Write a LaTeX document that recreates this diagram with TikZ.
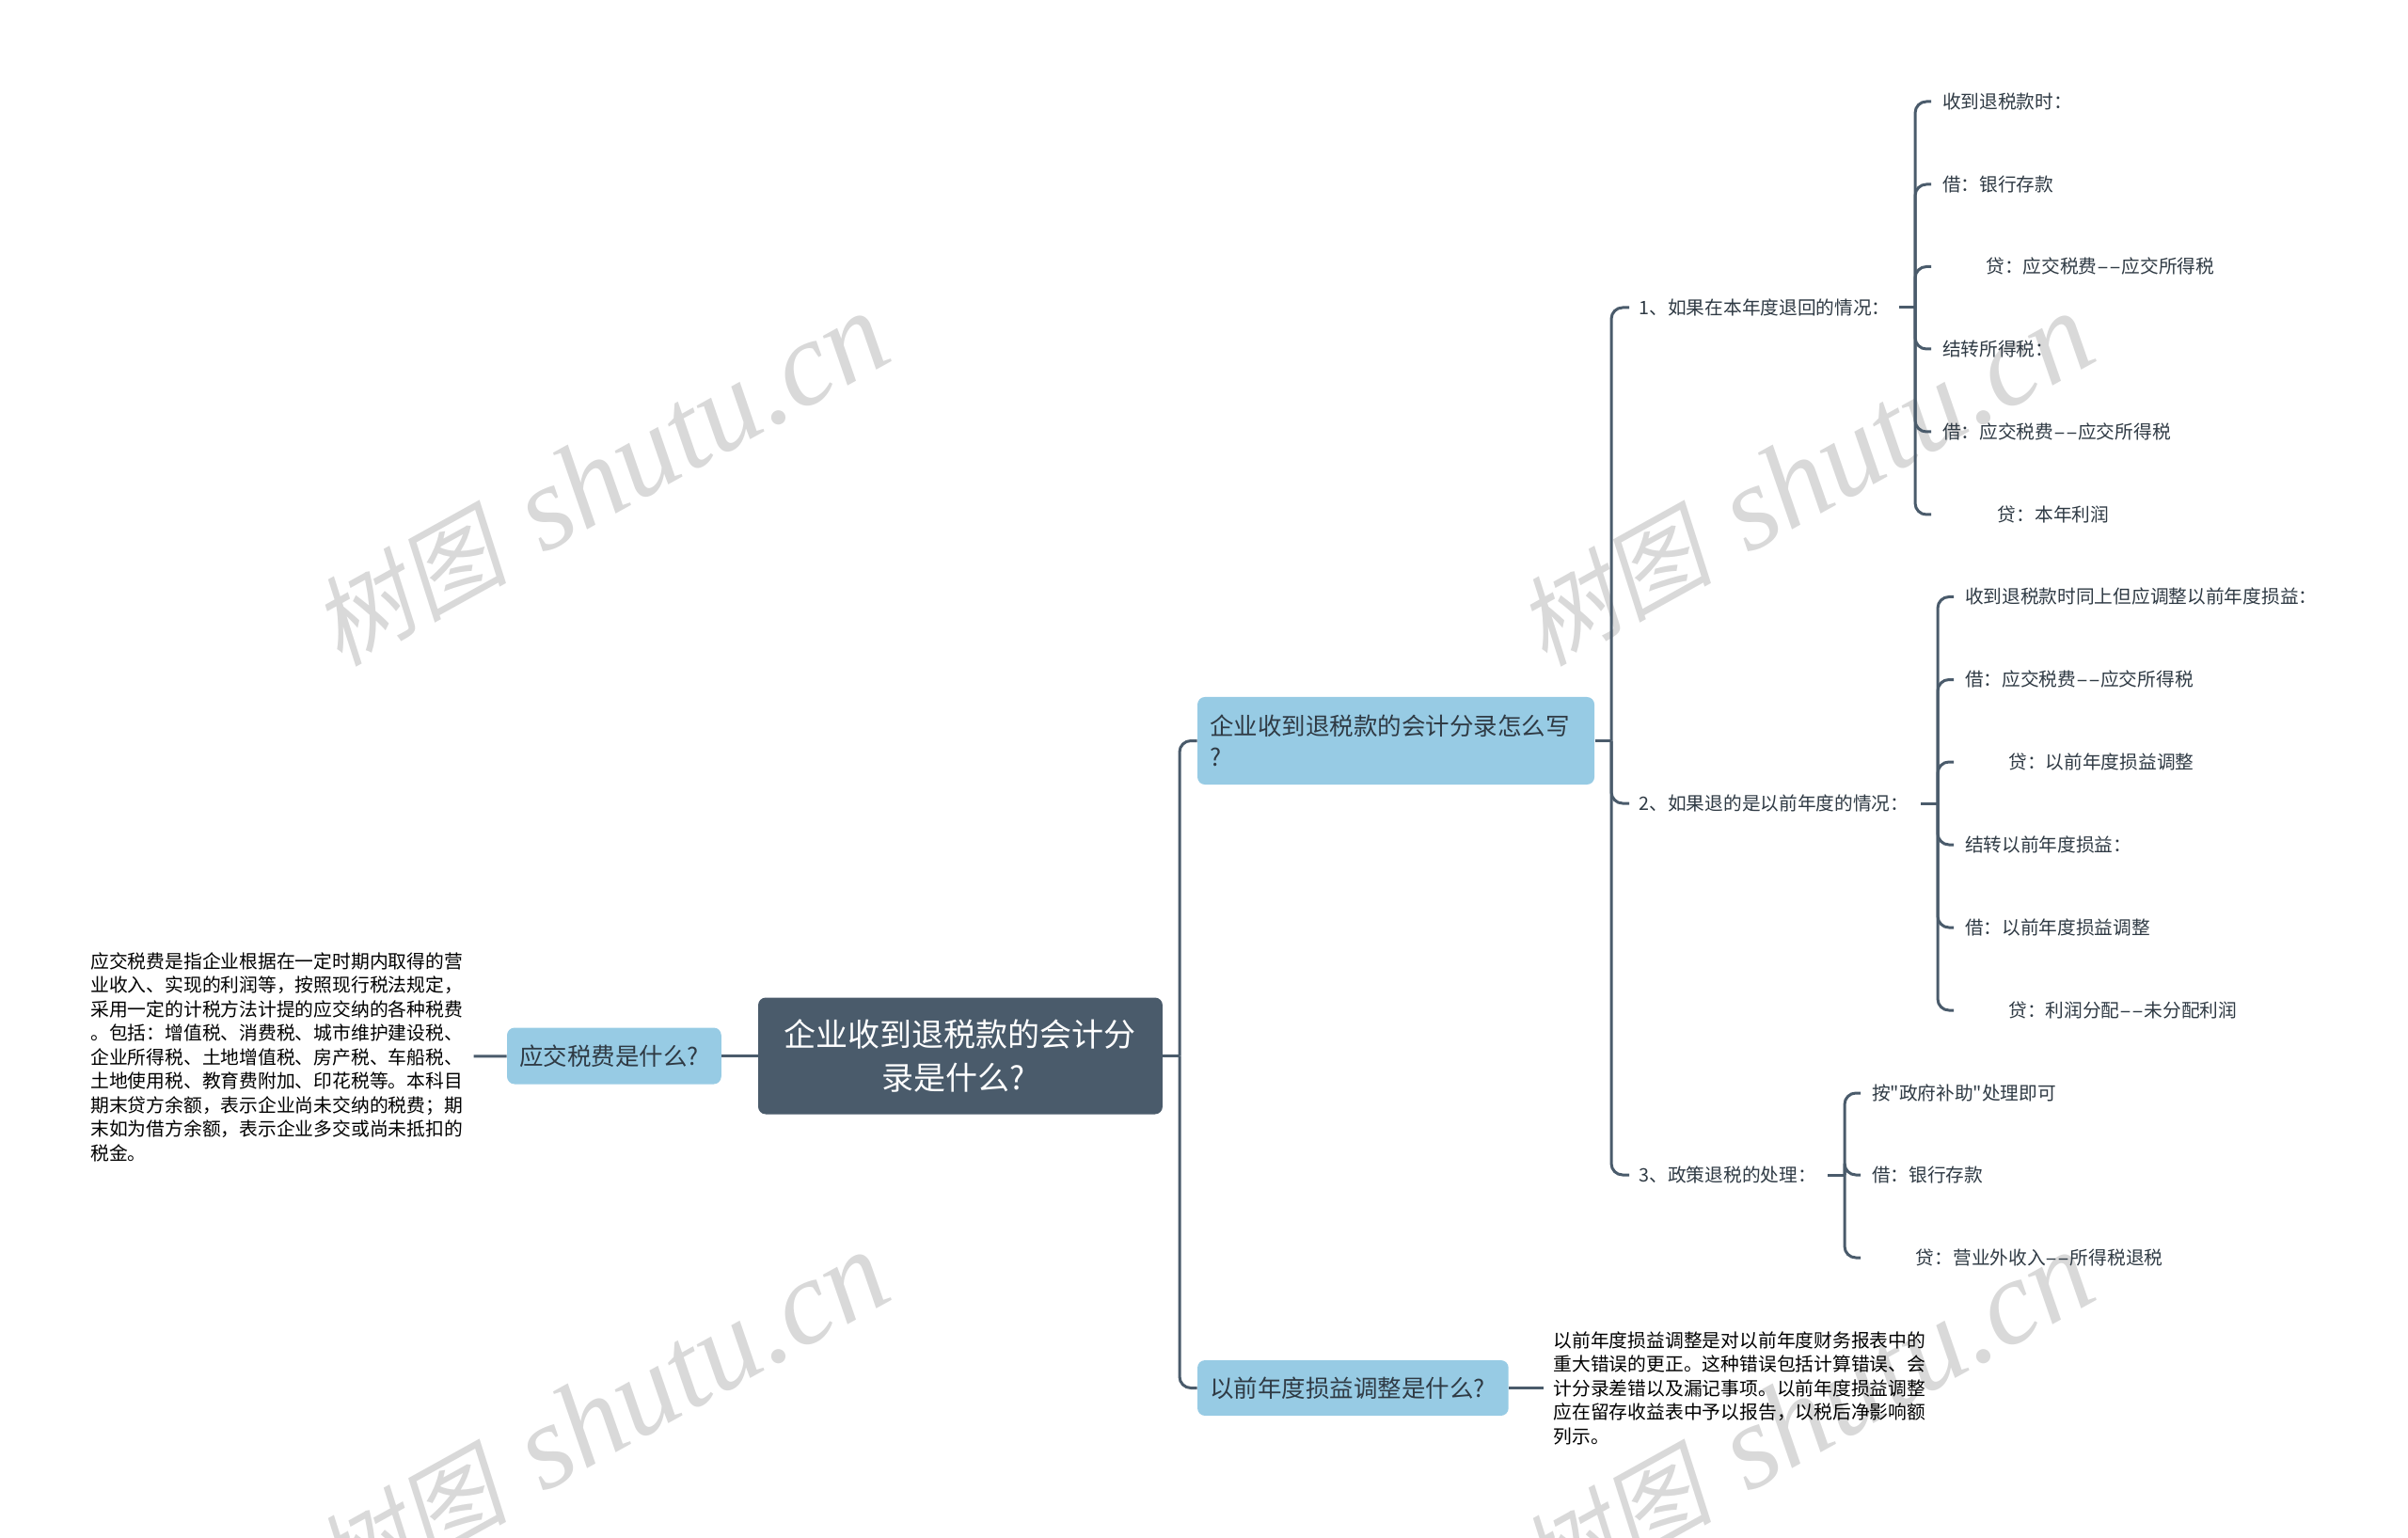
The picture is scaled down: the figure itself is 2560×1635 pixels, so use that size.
\documentclass[tikz,border=0pt]{standalone}
\usepackage{fontspec}
\usepackage{tikz}
\usetikzlibrary{positioning, calc}
\newfontfamily\cjk{Noto Sans CJK SC}
\newfontfamily\markcjk[FakeSlant=0.2]{Noto Sans CJK SC}
\newfontfamily\marklatin{Liberation Serif Italic}
\newcommand{\longdash}{\scalebox{1.9}[1]{--}}
\definecolor{tree_dark}{HTML}{4A5B6B}
\definecolor{tree_blue}{HTML}{97CBE4}
\definecolor{tree_text}{HTML}{2F3A44}
\colorlet{markgray}{black!15}
\tikzset{
  rootbox/.style={rectangle,rounded corners=3pt,fill=tree_dark,text=white,anchor=west,inner xsep=5.6pt,inner ysep=0pt,text width=150pt,minimum height=46.5pt,align=center,font=\cjk\fontsize{12.75}{17.25}\selectfont},
  askbox/.style={rectangle,rounded corners=3pt,fill=tree_blue,text=tree_text,anchor=west,inner xsep=4.9pt,inner ysep=0pt,align=left,font=\cjk\fontsize{9.56}{12.4}\selectfont},
  notebox/.style={anchor=west,inner xsep=3.75pt,inner ysep=1pt,text=black,align=left,font=\cjk\fontsize{7.42}{9.56}\selectfont},
  itembox/.style={anchor=west,inner xsep=3.75pt,inner ysep=1pt,text=tree_text,align=left,text height=6.4pt,text depth=0.8pt,font=\cjk\fontsize{7.39}{9.56}\selectfont},
  leafbox/.style={itembox,inner xsep=4.3pt},
  link/.style={draw=tree_dark,line width=1.125pt},
  branchlink/.style={link,rounded corners=4.5pt},
  watermark/.style={rotate=29,text=markgray,inner sep=0pt},
}
\begin{document}
\begin{tikzpicture}[x=0.375pt,y=-0.375pt]
	    \useasboundingbox (0,0) rectangle (2560,1635);
	    \begin{scope}
	    	\clip (0,0) rectangle (2560,1635);
	    	\foreach \mx/\my/\mn in {638/510/a,1919/510/b,638/1508/c,1919/1508/d}
	    		\node[watermark,font=\fontsize{48}{51}\selectfont] (mark\mn) at (\mx,\my) {{\markcjk\fontsize{39}{51}\selectfont 树图} {\marklatin shutu.cn}};
	    \end{scope}
	    % centre and the two sides
	    \node[rootbox] (root) at (805.5,1122.5) {企业收到退税款的会计分\\录是什么?\hspace*{5.5pt}};
	    \node[askbox,minimum width=85.4pt,minimum height=22.5pt,text width=75.6pt] (askTax) at (538.5,1122.5) {应交税费是什么?};
	    \node[notebox,anchor=east,inner xsep=4.1pt] (noteTax) at (503.5,1123.5) {应交税费是指企业根据在一定时期内取得的营\\业收入、实现的利润等，按照现行税法规定，\\采用一定的计税方法计提的应交纳的各种税费\\。包括：增值税、消费税、城市维护建设税、\\企业所得税、土地增值税、房产税、车船税、\\土地使用税、教育费附加、印花税等。本科目\\期末贷方余额，表示企业尚未交纳的税费；期\\末如为借方余额，表示企业多交或尚未抵扣的\\税金。};
	    \node[askbox,minimum height=34.9pt,text width=148.45pt] (askEntry) at (1272.5,787.5) {企业收到退税款的会计分录怎么写\\?};
	    \node[askbox,minimum height=22.1pt,text width=114.2pt] (askAdjust) at (1272.5,1475.5) {以前年度损益调整是什么?};
	    \node[notebox] (noteAdjust) at (1641,1475.5) {以前年度损益调整是对以前年度财务报表中的\\重大错误的更正。这种错误包括计算错误、会\\计分录差错以及漏记事项。以前年度损益调整\\应在留存收益表中予以报告，以税后净影响额\\列示。};
	    % the three cases
	    \node[itembox,text width=99.75pt] (caseA) at (1732,327) {1、如果在本年度退回的情况：};
	    \node[itembox,text width=108.4pt] (caseB) at (1732,854) {2、如果退的是以前年度的情况：};
	    \node[itembox,text width=71.25pt] (caseC) at (1732,1249) {3、政策退税的处理：};
	    \node[leafbox] (leafA1) at (2053,108) {收到退税款时：};
	    \node[leafbox] (leafA2) at (2053,196) {借：银行存款};
	    \node[leafbox] (leafA3) at (2053,283.5) {\hspace*{17.4pt}贷：应交税费\longdash 应交所得税};
	    \node[leafbox] (leafA4) at (2053,371) {结转所得税：};
	    \node[leafbox] (leafA5) at (2053,459) {借：应交税费\longdash 应交所得税};
	    \node[leafbox] (leafA6) at (2053,547) {\hspace*{22.1pt}贷：本年利润};
	    \node[leafbox] (leafB1) at (2077,634.5) {收到退税款时同上但应调整以前年度损益：};
	    \node[leafbox] (leafB2) at (2077,722.5) {借：应交税费\longdash 应交所得税};
	    \node[leafbox] (leafB3) at (2077,810) {\hspace*{17.4pt}贷：以前年度损益调整};
	    \node[leafbox] (leafB4) at (2077,898) {结转以前年度损益：};
	    \node[leafbox] (leafB5) at (2077,986) {借：以前年度损益调整};
	    \node[leafbox] (leafB6) at (2077,1074) {\hspace*{17.4pt}贷：利润分配\longdash 未分配利润};
	    \node[leafbox] (leafC1) at (1978,1162) {按"政府补助"处理即可};
	    \node[leafbox] (leafC2) at (1978,1249) {借：银行存款};
	    \node[leafbox] (leafC3) at (1978,1337) {\hspace*{17.6pt}贷：营业外收入\longdash 所得税退税};
	    % connectors
	    \coordinate (spineRoot) at (1254,0);
	    \coordinate (spineEntry) at (1713,0);
	    \coordinate (spineA) at (2036,0);
	    \coordinate (spineB) at (2060,0);
	    \coordinate (spineC) at (1961,0);
	    \draw[link] (noteTax) -- (askTax);
	    \draw[link] (askTax) -- (root);
	    \draw[link] (askAdjust) -- (noteAdjust.west);
	    \draw[link] (root.east) -- (spineRoot |- root.east);
	    \draw[link] (askEntry.east) -- (spineEntry |- askEntry.east);
	    \draw[link] (caseA.east) -- (spineA |- caseA.east);
	    \draw[link] (caseB.east) -- (spineB |- caseB.east);
	    \draw[link] (caseC.east) -- (spineC |- caseC.east);
	    \foreach \kid in {askEntry,askAdjust}
	    	\draw[branchlink] (spineRoot |- root.east) |- (\kid.west);
	    \foreach \kid in {caseA,caseB,caseC}
	    	\draw[branchlink] (spineEntry |- askEntry.east) |- (\kid.west);
	    \foreach \kid in {leafA1,leafA2,leafA3,leafA4,leafA5,leafA6}
	    	\draw[branchlink] (spineA |- caseA.east) |- (\kid.west);
	    \foreach \kid in {leafB1,leafB2,leafB3,leafB4,leafB5,leafB6}
	    	\draw[branchlink] (spineB |- caseB.east) |- (\kid.west);
	    \foreach \kid in {leafC1,leafC2,leafC3}
	    	\draw[branchlink] (spineC |- caseC.east) |- (\kid.west);
	\end{tikzpicture}
\end{document}
